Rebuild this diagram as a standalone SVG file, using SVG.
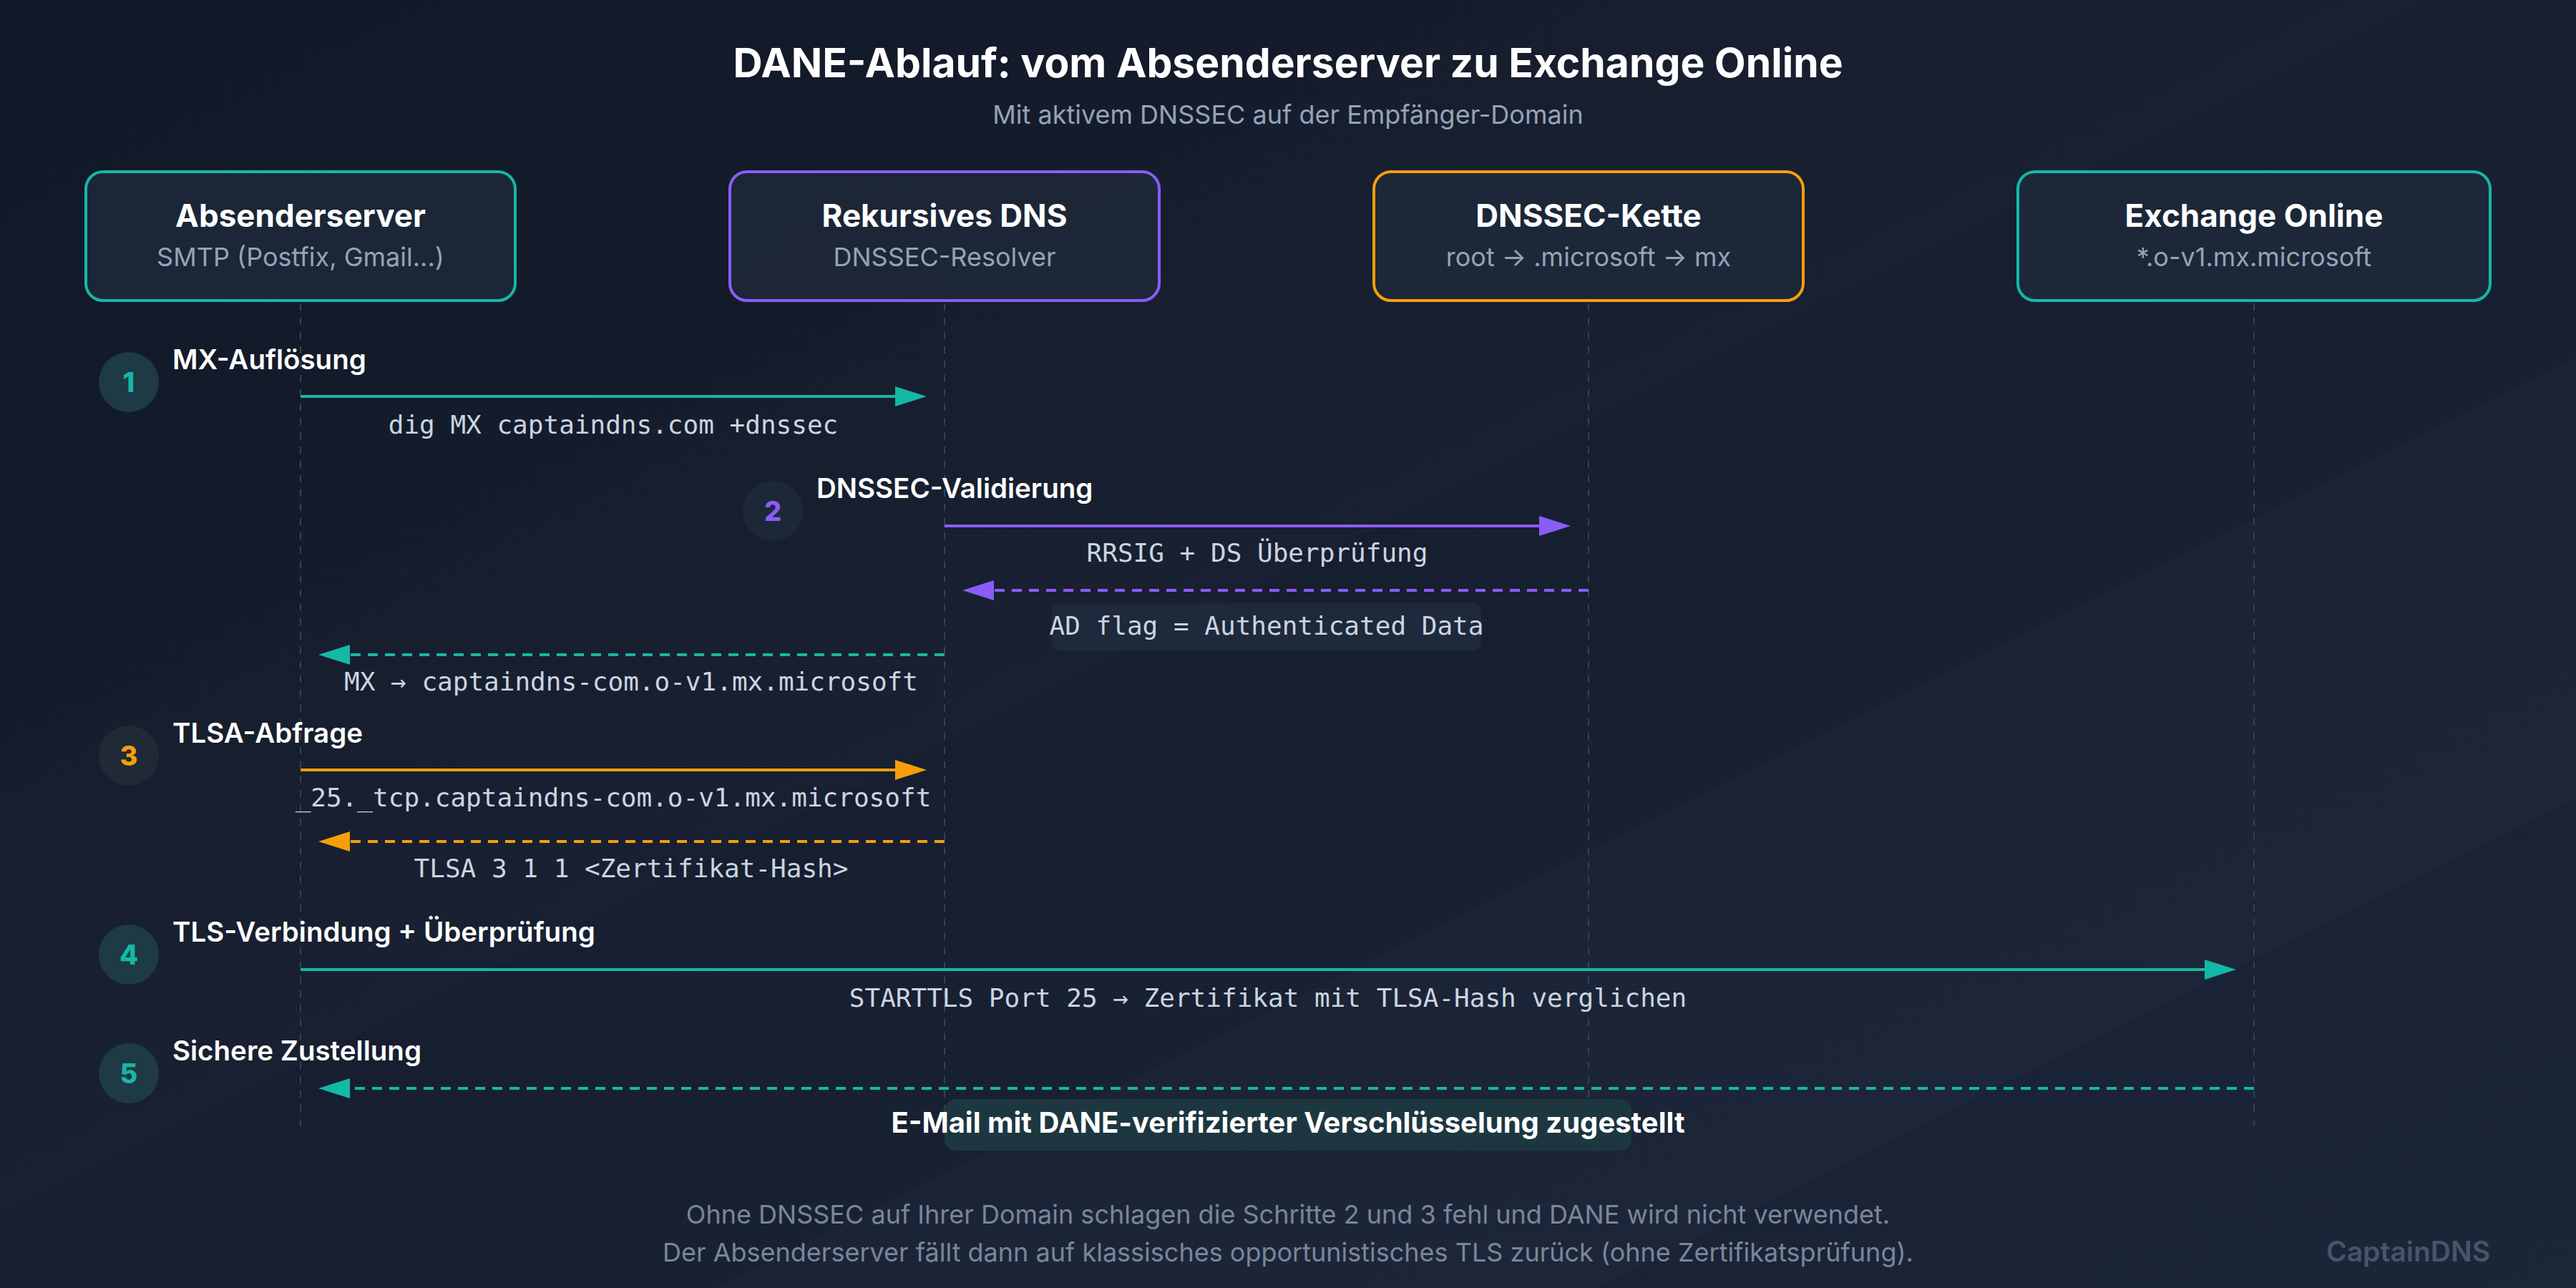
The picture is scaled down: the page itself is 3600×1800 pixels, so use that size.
<svg xmlns="http://www.w3.org/2000/svg" width="3600" height="1800" viewBox="0 0 3600 1800">
<defs>
<linearGradient id="bg" x1="0" y1="0" x2="1" y2="1">
<stop offset="0" stop-color="#111827"/>
<stop offset="1" stop-color="#1c2639"/>
</linearGradient>
<marker id="ah-teal" markerUnits="userSpaceOnUse" markerWidth="44" markerHeight="28" refX="36" refY="14" orient="auto"><path d="M0,0 L44,14 L0,28 Z" fill="#14b8a6"/></marker>
<marker id="ah-purple" markerUnits="userSpaceOnUse" markerWidth="44" markerHeight="28" refX="36" refY="14" orient="auto"><path d="M0,0 L44,14 L0,28 Z" fill="#8b5cf6"/></marker>
<marker id="ah-orange" markerUnits="userSpaceOnUse" markerWidth="44" markerHeight="28" refX="36" refY="14" orient="auto"><path d="M0,0 L44,14 L0,28 Z" fill="#f59e0b"/></marker>
</defs>
<style>
.title{font-family:Inter,"Liberation Sans",sans-serif;font-weight:700;font-size:57px;fill:#ffffff;text-anchor:middle}
.subtitle{font-family:Inter,"Liberation Sans",sans-serif;font-size:36px;fill:#94a3b8;text-anchor:middle}
.box{fill:#1e293b;fill-opacity:0.8;stroke-width:4}
.ntitle{font-family:Inter,"Liberation Sans",sans-serif;font-weight:700;font-size:44px;fill:#ffffff;text-anchor:middle}
.nsub{font-family:Inter,"Liberation Sans",sans-serif;font-size:36px;fill:#94a3b8;text-anchor:middle}
.life{stroke:#334155;stroke-width:2;stroke-dasharray:10 10;fill:none}
.msg{stroke-width:4;fill:none}
.dash{stroke-dasharray:14 10}
.steplbl{font-family:Inter,"Liberation Sans",sans-serif;font-weight:600;font-size:38.5px;fill:#ffffff}
.stepnum{font-family:Inter,"Liberation Sans",sans-serif;font-weight:800;font-size:38px;text-anchor:middle}
.mono{font-family:"DejaVu Sans Mono","Liberation Mono",monospace;font-size:36px;fill:#cbd5e1;text-anchor:middle}
.foot{font-family:Inter,"Liberation Sans",sans-serif;font-size:36px;fill:#7a869b;text-anchor:middle}
</style>
<rect x="0" y="0" width="3600" height="1800" fill="url(#bg)"/>
<polygon points="2112,0 3396,0 -204,1800 -1488,1800" fill="#ffffff" fill-opacity="0.012"/>
<polygon points="4601,0 5829,0 2229,1800 1001,1800" fill="#ffffff" fill-opacity="0.015"/>

<text class="title" x="1800" y="108">DANE-Ablauf: vom Absenderserver zu Exchange Online</text>
<text class="subtitle" x="1800" y="173">Mit aktivem DNSSEC auf der Empfänger-Domain</text>

<g id="lifelines">
<line class="life" x1="420" y1="424" x2="420" y2="1585"/>
<line class="life" x1="1320" y1="424" x2="1320" y2="1585"/>
<line class="life" x1="2220" y1="424" x2="2220" y2="1585"/>
<line class="life" x1="3150" y1="424" x2="3150" y2="1585"/>
</g>

<g id="node-absenderserver">
<rect class="box" x="120" y="240" width="600" height="180" rx="24" stroke="#14b8a6"/>
<text class="ntitle" x="420" y="317">Absenderserver</text>
<text class="nsub" x="420" y="372">SMTP (Postfix, Gmail...)</text>
</g>
<g id="node-rekursives-dns">
<rect class="box" x="1020" y="240" width="600" height="180" rx="24" stroke="#8b5cf6"/>
<text class="ntitle" x="1320" y="317">Rekursives DNS</text>
<text class="nsub" x="1320" y="372">DNSSEC-Resolver</text>
</g>
<g id="node-dnssec-kette">
<rect class="box" x="1920" y="240" width="600" height="180" rx="24" stroke="#f59e0b"/>
<text class="ntitle" x="2220" y="317">DNSSEC-Kette</text>
<text class="nsub" x="2220" y="372">root → .microsoft → mx</text>
</g>
<g id="node-exchange-online">
<rect class="box" x="2820" y="240" width="660" height="180" rx="24" stroke="#14b8a6"/>
<text class="ntitle" x="3150" y="317">Exchange Online</text>
<text class="nsub" x="3150" y="372">*.o-v1.mx.microsoft</text>
</g>

<g id="steps">
<circle cx="180" cy="534" r="42" fill="#1e3a44"/>
<text class="stepnum" x="180" y="548" fill="#14b8a6">1</text>
<text class="steplbl" x="241" y="516">MX-Auflösung</text>

<circle cx="1080" cy="714" r="42" fill="#1c2838"/>
<text class="stepnum" x="1080" y="728" fill="#8b5cf6">2</text>
<text class="steplbl" x="1141" y="696">DNSSEC-Validierung</text>

<circle cx="180" cy="1056" r="42" fill="#1f2a36"/>
<text class="stepnum" x="180" y="1070" fill="#f59e0b">3</text>
<text class="steplbl" x="241" y="1038">TLSA-Abfrage</text>

<circle cx="180" cy="1334" r="42" fill="#1e3a44"/>
<text class="stepnum" x="180" y="1348" fill="#14b8a6">4</text>
<text class="steplbl" x="241" y="1316">TLS-Verbindung + Überprüfung</text>

<circle cx="180" cy="1500" r="42" fill="#1e3a44"/>
<text class="stepnum" x="180" y="1514" fill="#14b8a6">5</text>
<text class="steplbl" x="241" y="1482">Sichere Zustellung</text>
</g>

<g id="connectors">
<line class="msg" x1="420" y1="554" x2="1287" y2="554" stroke="#14b8a6" marker-end="url(#ah-teal)"/>
<text class="mono" x="857" y="606">dig MX captaindns.com +dnssec</text>

<line class="msg" x1="1320" y1="735" x2="2187" y2="735" stroke="#8b5cf6" marker-end="url(#ah-purple)"/>
<text class="mono" x="1757" y="785">RRSIG + DS Überprüfung</text>

<line class="msg dash" x1="2220" y1="825" x2="1353" y2="825" stroke="#8b5cf6" marker-end="url(#ah-purple)"/>
<rect x="1470" y="843" width="600" height="66" rx="12" fill="#1e293b"/>
<text class="mono" x="1770" y="887">AD flag = Authenticated Data</text>

<line class="msg dash" x1="1320" y1="915" x2="453" y2="915" stroke="#14b8a6" marker-end="url(#ah-teal)"/>
<text class="mono" x="882" y="965">MX → captaindns-com.o-v1.mx.microsoft</text>

<line class="msg" x1="420" y1="1076" x2="1287" y2="1076" stroke="#f59e0b" marker-end="url(#ah-orange)"/>
<text class="mono" x="857" y="1127">_25._tcp.captaindns-com.o-v1.mx.microsoft</text>

<line class="msg dash" x1="1320" y1="1176" x2="453" y2="1176" stroke="#f59e0b" marker-end="url(#ah-orange)"/>
<text class="mono" x="882" y="1226">TLSA 3 1 1 &lt;Zertifikat-Hash&gt;</text>

<line class="msg" x1="420" y1="1355" x2="3117" y2="1355" stroke="#14b8a6" marker-end="url(#ah-teal)"/>
<text class="mono" x="1772" y="1407">STARTTLS Port 25 → Zertifikat mit TLSA-Hash verglichen</text>

<line class="msg dash" x1="3150" y1="1521" x2="453" y2="1521" stroke="#14b8a6" marker-end="url(#ah-teal)"/>
<rect x="1320" y="1536" width="960" height="72" rx="16" fill="#1d3741"/>
<text class="steplbl" x="1800" y="1583" text-anchor="middle" style="font-size:40px;font-weight:700">E-Mail mit DANE-verifizierter Verschlüsselung zugestellt</text>
</g>

<text class="foot" x="1800" y="1710">Ohne DNSSEC auf Ihrer Domain schlagen die Schritte 2 und 3 fehl und DANE wird nicht verwendet.</text>
<text class="foot" x="1800" y="1763">Der Absenderserver fällt dann auf klassisches opportunistisches TLS zurück (ohne Zertifikatsprüfung).</text>
<text x="3480" y="1763" text-anchor="end" font-family="Inter, 'Liberation Sans', sans-serif" font-weight="600" font-size="39" fill="#475569">CaptainDNS</text>
</svg>
